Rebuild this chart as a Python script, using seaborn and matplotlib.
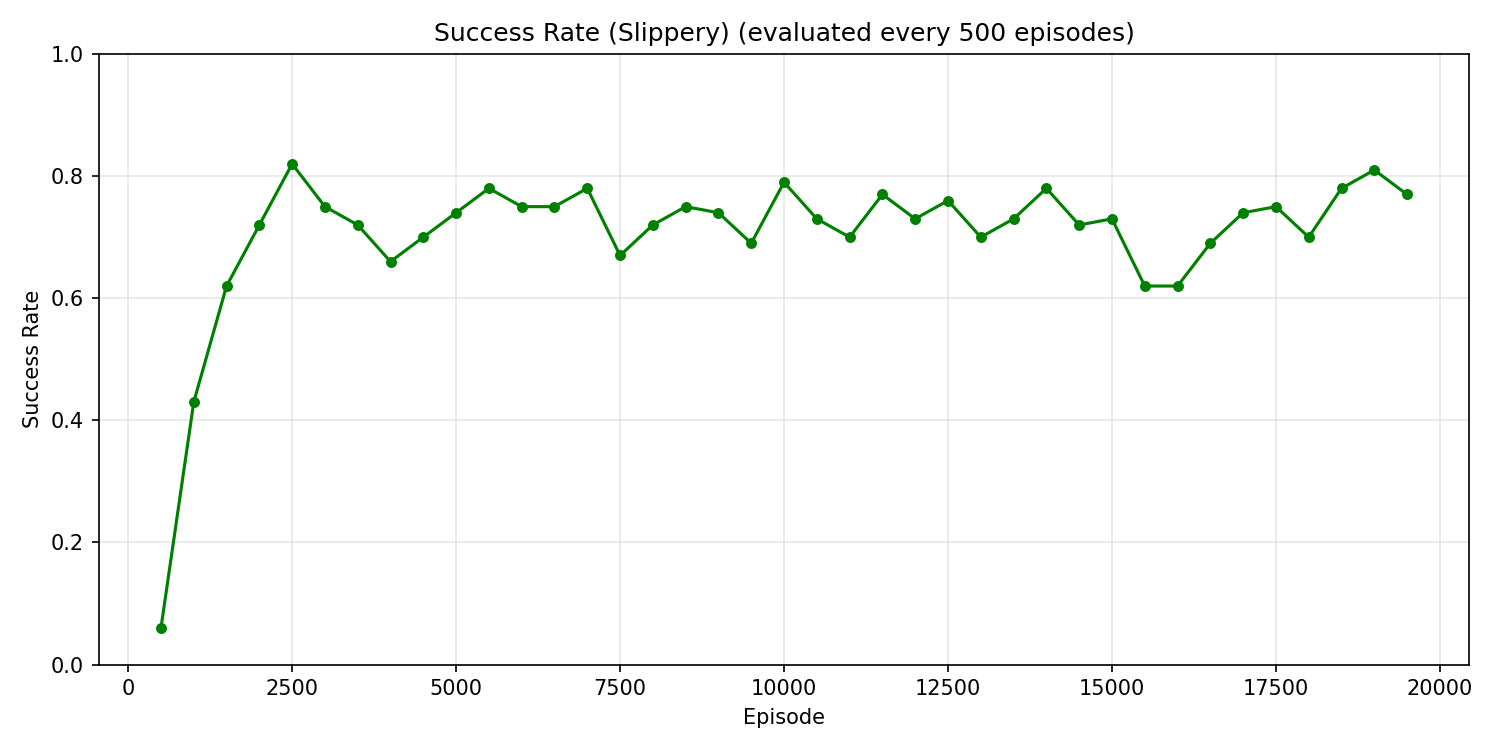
import matplotlib
matplotlib.use("Agg")
import matplotlib.pyplot as plt
import seaborn as sns
import pandas as pd

# -------------------------------
# Data
# -------------------------------
episodes = list(range(500, 20000, 500))
success_rate = [
    0.06, 0.43, 0.62, 0.72, 0.82, 0.75, 0.72, 0.66, 0.70, 0.74,
    0.78, 0.75, 0.75, 0.78, 0.67, 0.72, 0.75, 0.74, 0.69, 0.79,
    0.73, 0.70, 0.77, 0.73, 0.76, 0.70, 0.73, 0.78, 0.72, 0.73,
    0.62, 0.62, 0.69, 0.74, 0.75, 0.70, 0.78, 0.81, 0.77,
]

df = pd.DataFrame({"Episode": episodes, "Success Rate": success_rate})

# -------------------------------
# Plot
# -------------------------------
fig, ax = plt.subplots(figsize=(10, 5), dpi=150)
sns.lineplot(data=df, x="Episode", y="Success Rate", ax=ax,
             color="green", marker="o", markersize=4.5,
             markeredgecolor="green", linewidth=1.5)

ax.set_ylim(0, 1.0)
ax.grid(True, alpha=0.3)
ax.set_xlabel("Episode")
ax.set_ylabel("Success Rate")
ax.set_title("Success Rate (Slippery) (evaluated every 500 episodes)")

plt.tight_layout()
plt.savefig("out.png", dpi=150)
